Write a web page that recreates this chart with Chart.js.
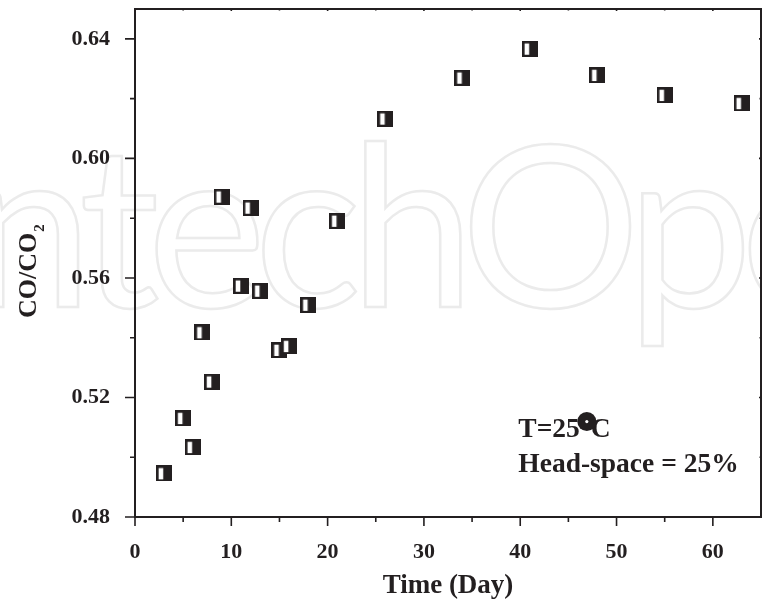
<!DOCTYPE html>
<html><head><meta charset="utf-8">
<script src="https://cdn.jsdelivr.net/npm/chart.js@4"></script>
<style>html,body{margin:0;padding:0;background:#fff;overflow:hidden}canvas{display:block}</style>
</head><body>
<canvas id="c" width="762" height="605"></canvas>
<script>
// ---- data ----
const days = [3, 5, 6, 7, 8, 9, 11, 12, 13, 15, 16, 18, 21, 26, 34, 41, 48, 55, 63];
const coRatio = [0.4946, 0.5131, 0.5034, 0.5418, 0.5253, 0.5872, 0.5574, 0.5835, 0.5557, 0.5359, 0.5372, 0.5510, 0.5791, 0.6133, 0.6270, 0.6367, 0.6279, 0.6212, 0.6185];
const xTickValues = [0, 10, 20, 30, 40, 50, 60];
const xMinorValues = [5, 15, 25, 35, 45, 55];
const yTickValues = [0.48, 0.52, 0.56, 0.60, 0.64];
const yMinorValues = [0.50, 0.54, 0.58, 0.62];
const xTitle = 'Time (Day)';
const yTitleMain = 'CO/CO';
const yTitleSub = '2';
const noteLine1 = 'T=25°C';
const noteLine2 = 'Head-space = 25%';
const watermark = 'IntechOpen';

const INK = '#231f20';
const SERIF = '"Liberation Serif", "Times New Roman", serif';

// marker: square, narrow white strip on the left, black on the right
function makeMarker() {
  const c = document.createElement('canvas');
  c.width = 16; c.height = 16;
  const g = c.getContext('2d');
  g.fillStyle = INK;
  g.fillRect(0, 0, 16, 16);
  g.fillStyle = '#fff';
  g.fillRect(2.7, 2.7, 4.6, 11.3);
  return c;
}

function zeroPad(s) { s.paddingTop = 0; s.paddingBottom = 0; s.paddingLeft = 0; s.paddingRight = 0; }

const decor = {
  id: 'decor',
  beforeDraw(chart) {
    const ctx = chart.ctx;
    ctx.save();
    ctx.fillStyle = '#fff';
    ctx.fillRect(0, 0, chart.width, chart.height);
    // faint outlined watermark
    ctx.font = '400 225px Lato';
    ctx.letterSpacing = '-12px';
    ctx.textBaseline = 'alphabetic';
    ctx.strokeStyle = '#ebebeb';
    ctx.lineWidth = 2.5;
    const pre = ctx.measureText('Intech').width;
    const x0 = 463 - pre;
    ctx.strokeText(watermark, x0, 307);
    ctx.restore();
  },
  afterDraw(chart) {
    const ctx = chart.ctx;
    const xs = chart.scales.x, ys = chart.scales.y;
    const a = chart.chartArea;
    ctx.save();
    ctx.strokeStyle = INK;
    ctx.lineWidth = 2;
    ctx.strokeRect(a.left, a.top, a.right - a.left, a.bottom - a.top);
    ctx.lineWidth = 1.6;
    ctx.beginPath();
    const tick = (x1, y1, x2, y2) => { ctx.moveTo(x1, y1); ctx.lineTo(x2, y2); };
    xTickValues.forEach(v => { const p = xs.getPixelForValue(v); tick(p, a.bottom, p, a.bottom + 9); tick(p, a.top, p, a.top + 2); });
    xMinorValues.forEach(v => { const p = xs.getPixelForValue(v); tick(p, a.bottom, p, a.bottom + 5); tick(p, a.top, p, a.top + 1.5); });
    yTickValues.forEach(v => { const p = ys.getPixelForValue(v); tick(a.left, p, a.left - 10, p); tick(a.right, p, a.right - 2, p); });
    yMinorValues.forEach(v => { const p = ys.getPixelForValue(v); tick(a.left, p, a.left - 5, p); tick(a.right, p, a.right - 1.5, p); });
    ctx.stroke();

    ctx.fillStyle = INK;
    // x title
    ctx.font = 'bold 27px ' + SERIF;
    ctx.textAlign = 'center';
    ctx.textBaseline = 'alphabetic';
    ctx.fillText(xTitle, (a.left + a.right) / 2, 593);
    // y title (rotated, with subscript)
    ctx.save();
    ctx.translate(36, 318);
    ctx.rotate(-Math.PI / 2);
    ctx.textAlign = 'left';
    ctx.font = 'bold 26px ' + SERIF;
    ctx.fillText(yTitleMain, 0, 0);
    const w = ctx.measureText(yTitleMain).width;
    ctx.font = 'bold 15px ' + SERIF;
    ctx.fillText(yTitleSub, w + 1, 8);
    ctx.restore();

    // annotation
    const nx = xs.getPixelForValue(39.8);
    const ny1 = ys.getPixelForValue(0.50675);
    const ny2 = ys.getPixelForValue(0.49505);
    ctx.font = 'bold 27.5px ' + SERIF;
    ctx.textAlign = 'left';
    ctx.fillText(noteLine1, nx, ny1);
    ctx.fillText(noteLine2, nx, ny2);
    const wT = ctx.measureText('T=25').width;
    const cx = nx + wT + 7, cy = ny1 - 15.5;
    ctx.beginPath(); ctx.arc(cx, cy, 9.5, 0, Math.PI * 2); ctx.fill();
    ctx.fillStyle = '#fff';
    ctx.beginPath(); ctx.arc(cx, cy, 1.6, 0, Math.PI * 2); ctx.fill();
    ctx.restore();
  }
};

new Chart(document.getElementById('c'), {
  type: 'scatter',
  data: {
    datasets: [{
      data: days.map((d, i) => ({ x: d, y: coRatio[i] })),
      pointStyle: makeMarker(),
      pointRadius: 8,
      pointHoverRadius: 8
    }]
  },
  options: {
    responsive: false,
    devicePixelRatio: 1,
    animation: false,
    events: [],
    layout: { autoPadding: false, padding: { top: 9, right: 1, left: 0, bottom: 0 } },
    plugins: { legend: { display: false }, tooltip: { enabled: false } },
    scales: {
      x: {
        type: 'linear', min: 0, max: 65,
        grid: { display: false }, border: { display: false },
        afterBuildTicks: s => { s.ticks = xTickValues.map(v => ({ value: v })); },
        afterFit: s => { s.height = 88; zeroPad(s); },
        ticks: { padding: 14, color: INK, font: { family: SERIF, size: 22, weight: 'bold' }, maxRotation: 0, callback: v => String(v) }
      },
      y: {
        type: 'linear', min: 0.48, max: 0.65,
        grid: { display: false }, border: { display: false },
        afterBuildTicks: s => { s.ticks = yTickValues.map(v => ({ value: v })); },
        afterFit: s => { s.width = 135; zeroPad(s); },
        ticks: { padding: 17, color: INK, font: { family: SERIF, size: 22, weight: 'bold' }, callback: v => Number(v).toFixed(2) }
      }
    }
  },
  plugins: [decor]
});
</script>
</body></html>
